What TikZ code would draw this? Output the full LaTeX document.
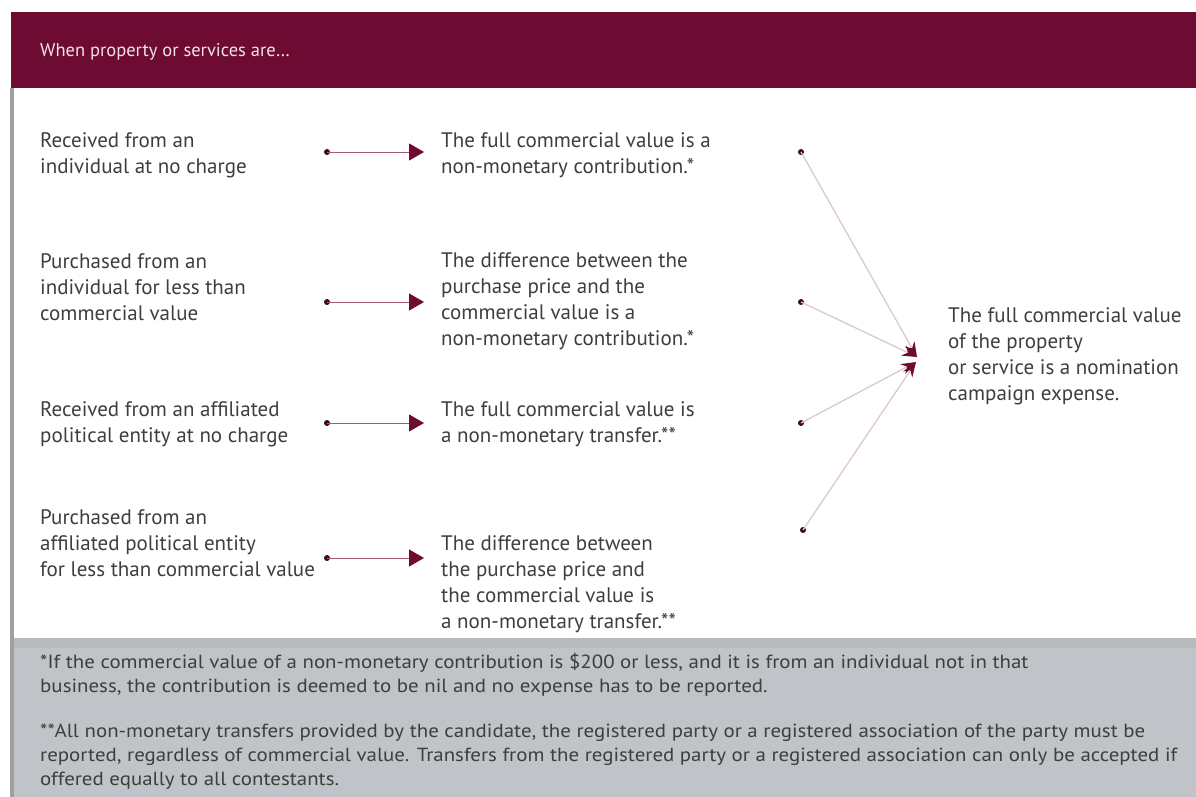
\documentclass[tikz,border=0pt]{standalone}
\usepackage{fontspec}
\setmainfont{PT Sans}
\newfontfamily\footfont[FakeStretch=1.1]{PT Sans}
\usetikzlibrary{arrows.meta}
\definecolor{maroon}{HTML}{6E0B33}
\definecolor{hdtext}{HTML}{F2E2E8}
\definecolor{bodytext}{HTML}{3E3E3E}
\definecolor{footbg}{HTML}{C0C3C7}
\definecolor{footstrip}{HTML}{B9BABC}
\definecolor{borderline}{HTML}{A0A0A0}
\definecolor{hline}{HTML}{A35A76}
\definecolor{cline}{HTML}{DCC8CF}
\tikzset{
  bodytxt/.style={anchor=base west, inner sep=0pt, align=left, text=bodytext,
    font=\fontsize{21}{25.8}\selectfont},
  foottxt/.style={anchor=base west, inner sep=0pt, align=left, text=bodytext,
    font=\footfont\fontsize{19}{24}\selectfont},
  dotnode/.style={circle, fill=maroon!55!black, inner sep=0pt, minimum size=6pt},
  harrow/.style={draw=hline, line width=1pt,
    -{Triangle[length=15pt, width=17pt, fill=maroon, color=maroon]}},
  carrow/.style={draw=cline, line width=1.3pt,
    -{Stealth[length=15pt, width=11pt, inset=5pt, fill=maroon, color=maroon]}}
}
\begin{document}
\begin{tikzpicture}[x=1pt,y=-1pt]
\useasboundingbox (0,0) rectangle (1196,797);
% backgrounds
\fill[white] (0,0) rectangle (1196,797);
\fill[maroon] (11,12) rectangle (1196,88);
\fill[footbg] (11,638) rectangle (1196,797);
\fill[footstrip] (11,638) rectangle (1196,648);
\fill[borderline] (10,88) rectangle (13.5,797);
% header
\node[anchor=base west, inner sep=0pt, text=hdtext, font=\fontsize{18.5}{20}\selectfont]
  (hdr) at (40,57) {When property or services are\ldots};
% left column (anchor = baseline of last line)
\node[bodytxt] (l1) at (40,173) {Received from an\\individual at no charge};
\node[bodytxt] (l2) at (40,320) {Purchased from an\\individual for less than\\commercial value};
\node[bodytxt] (l3) at (40,442) {Received from an affiliated\\political entity at no charge};
\node[bodytxt] (l4) at (40,576) {Purchased from an\\affiliated political entity\\for less than commercial value};
% middle column
\node[bodytxt] (m1) at (441,173) {The full commercial value is a\\non-monetary contribution.*};
\node[bodytxt] (m2) at (441,345) {The difference between the\\purchase price and the\\commercial value is a\\non-monetary contribution.*};
\node[bodytxt] (m3) at (441,442) {The full commercial value is\\a non-monetary transfer.**};
\node[bodytxt] (m4) at (441,628) {The difference between\\the purchase price and\\the commercial value is\\a non-monetary transfer.**};
% right text
\node[bodytxt] (r) at (948,400) {The full commercial value\\of the property\\or service is a nomination\\campaign expense.};
% horizontal arrows
\node[dotnode] (a1) at (327,152) {};
\node[dotnode] (a2) at (327,302) {};
\node[dotnode] (a3) at (327,423) {};
\node[dotnode] (a4) at (327,558) {};
\coordinate (t1) at (424,152);
\coordinate (t2) at (424,302);
\coordinate (t3) at (424,423);
\coordinate (t4) at (424,558);
\draw[harrow] (a1.center) -- (t1);
\draw[harrow] (a2.center) -- (t2);
\draw[harrow] (a3.center) -- (t3);
\draw[harrow] (a4.center) -- (t4);
% converging arrows
\node[dotnode] (b1) at (801,152) {};
\node[dotnode] (b2) at (801,302) {};
\node[dotnode] (b3) at (801,423) {};
\node[dotnode] (b4) at (803,530) {};
\coordinate (apexA) at (917,357);
\coordinate (apexB) at (916,362);
\draw[carrow] (b1.center) -- (apexA);
\draw[carrow] (b2.center) -- (apexA);
\draw[carrow] (b3.center) -- (apexB);
\draw[carrow] (b4.center) -- (apexB);
% footer
\node[foottxt] (f1) at (40,692) {*If the commercial value of a non-monetary contribution is \$200 or less, and it is from an individual not in that\\business, the contribution is deemed to be nil and no expense has to be reported.};
\node[foottxt] (f2) at (40,785) {**All non-monetary transfers provided by the candidate, the registered party or a registered association of the party must be\\reported, regardless of commercial value. Transfers from the registered party or a registered association can only be accepted if\\offered equally to all contestants.};
\end{tikzpicture}
\end{document}
